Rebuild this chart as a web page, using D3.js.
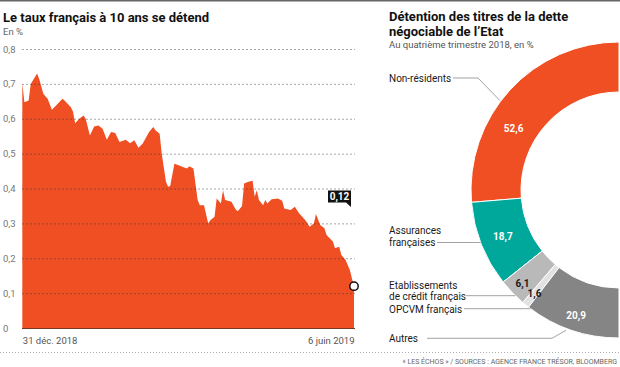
<!DOCTYPE html>
<html><head><meta charset="utf-8">
<script src="https://cdn.jsdelivr.net/npm/d3@7"></script>
<style>
body{margin:0;background:#fff;}
svg{display:block;font-family:Roboto,"Noto Sans",sans-serif;}
</style>
</head><body>
<svg id="chart" width="620" height="367"></svg>
<script>
// ---------- DATA ----------
const startDate = "2018-12-31";
const dayOffsets = [0,1,3,4,7,8,10,12,14,16,19,20,23,24,25,27,29,30,32,34,36,38,40,42,44,46,49,51,53,55,57,60,62,63,65,66,68,69,70,72,74,76,78,79,81,83,84,86,88,89,91,92,94,95,96,99,101,102,104,105,107,109,110,111,112,114,115,116,118,121,123,124,127,129,131,134,136,138,139,141,143,144,147,148,150,151,153,155,156,157];
const yieldValues = [0.702,0.647,0.652,0.700,0.730,0.714,0.671,0.657,0.626,0.638,0.657,0.652,0.633,0.620,0.587,0.600,0.609,0.600,0.552,0.578,0.581,0.571,0.540,0.562,0.559,0.533,0.540,0.530,0.538,0.517,0.529,0.562,0.576,0.567,0.557,0.500,0.419,0.405,0.407,0.471,0.467,0.462,0.457,0.464,0.457,0.367,0.352,0.352,0.300,0.309,0.319,0.371,0.357,0.395,0.367,0.362,0.340,0.335,0.350,0.414,0.419,0.422,0.376,0.395,0.367,0.352,0.367,0.357,0.369,0.371,0.365,0.343,0.338,0.348,0.329,0.309,0.290,0.300,0.327,0.295,0.286,0.267,0.248,0.229,0.233,0.209,0.195,0.167,0.143,0.120];
const yTicks = [0,0.1,0.2,0.3,0.4,0.5,0.6,0.7,0.8];
const xTickLabels = ["31 déc. 2018","6 juin 2019"];
const lastValueLabel = "0,12";

const holderCategories = ["Non-résidents","Assurances françaises","Etablissements de crédit français","OPCVM français","Autres"];
const holderShares = [52.6,18.7,6.1,1.6,20.9];
const holderShareLabels = ["52,6","18,7","6,1","1,6","20,9"];

// ---------- STYLE / LAYOUT ----------
const ORANGE = "#f04e23";
const holderColors = [ORANGE,"#00a89c","#b9b9b9","#e2e2e2","#858585"];
const holderLabelColors = ["#fff","#fff","#1a1a1a","#1a1a1a","#fff"];

const svg = d3.select("#chart");
svg.append("rect").attr("width",620).attr("height",367).attr("fill","#fff");
svg.append("rect").attr("x",0).attr("y",0).attr("width",620).attr("height",1.5).attr("fill","#666");

const fr = d3.formatLocale({decimal:",",thousands:" ",grouping:[3],currency:["","€"]});
const fmt = v => v===0 ? "0" : fr.format(".1f")(v);

// ---------- LEFT CHART ----------
svg.append("text").attr("x",3).attr("y",21.5).attr("font-size",13).attr("font-weight",700)
  .attr("fill","#111").text("Le taux français à 10 ans se détend");
svg.append("text").attr("x",3).attr("y",34.5).attr("font-size",9.5).attr("fill","#666").text("En %");

const parse = d3.timeParse("%Y-%m-%d");
const t0 = parse(startDate);
const series = dayOffsets.map((d,i)=>({date:d3.timeDay.offset(t0,d), v:yieldValues[i]}));
const x = d3.scaleTime().domain([series[0].date, series[series.length-1].date]).range([22.3,354]);
const y = d3.scaleLinear().domain([0,0.8]).range([328,49]);

const area = d3.area().x(d=>x(d.date)).y0(y(0)).y1(d=>y(d.v));
svg.append("path").datum(series).attr("d",area).attr("fill",ORANGE);

// y axis with gridlines
const yAxis = d3.axisLeft(y).tickValues(yTicks).tickFormat(fmt).tickSize(-(355-22)).tickPadding(0);
const gy = svg.append("g").attr("transform","translate(22,0)").call(yAxis);
gy.select(".domain").remove();
gy.selectAll(".tick line").attr("stroke","#333").attr("stroke-opacity",0.55)
  .attr("stroke-width",0.8).attr("stroke-dasharray","2,2");
gy.selectAll(".tick").filter(d=>d===0).select("line").attr("stroke-dasharray",null)
  .attr("stroke","#7a3a22").attr("stroke-opacity",1).attr("stroke-width",1);
gy.selectAll(".tick text").attr("x",-19).attr("text-anchor","start")
  .attr("font-size",9.5).attr("fill","#777").attr("font-family","Roboto,sans-serif");

// x axis labels
const xAxis = d3.axisBottom(x).tickValues(x.domain()).tickFormat((d,i)=>xTickLabels[i]).tickSize(0).tickPadding(9);
const gx = svg.append("g").attr("transform",`translate(0,${y(0)})`).call(xAxis);
gx.select(".domain").remove();
gx.selectAll(".tick text").attr("font-size",9.5).attr("fill","#555").attr("font-family","Roboto,sans-serif")
  .attr("text-anchor",(d,i)=>i===0?"start":"end");

// end point + callout
const last = series[series.length-1];
svg.append("circle").attr("cx",x(last.date)).attr("cy",y(last.v)).attr("r",4.2)
  .attr("fill","#fff").attr("stroke","#111").attr("stroke-width",1.5);
const bx = x(last.date)-3, by = y(0.36);
svg.append("path").attr("d",`M${bx-23},${by-12}H${bx}V${by+4.5}L${bx-5},${by}H${bx-23}Z`).attr("fill","#111");
svg.append("text").attr("x",bx-11.5).attr("y",by-2.6).attr("text-anchor","middle")
  .attr("font-size",10).attr("font-weight",700).attr("fill","#fff").text(lastValueLabel);

// ---------- RIGHT CHART ----------
svg.append("text").attr("x",389).attr("y",20.7).attr("font-size",13).attr("font-weight",700)
  .attr("fill","#111").text("Détention des titres de la dette");
svg.append("text").attr("x",389).attr("y",35.5).attr("font-size",13).attr("font-weight",700)
  .attr("fill","#111").text("négociable de l’Etat");
svg.append("text").attr("x",389).attr("y",48.3).attr("font-size",9.5).attr("fill","#555")
  .text("Au quatrième trimestre 2018, en %");

const cx = 619, cy = 190, R = 148, r = 98;
const pie = d3.pie().sort(null).value(d=>d).startAngle(2*Math.PI).endAngle(Math.PI);
const arcs = pie(holderShares);
const arc = d3.arc().innerRadius(r).outerRadius(R);
const gd = svg.append("g").attr("transform",`translate(${cx},${cy})`);
gd.selectAll("path").data(arcs).join("path").attr("d",arc)
  .attr("fill",(d,i)=>holderColors[i]).attr("stroke","#fff").attr("stroke-width",1);

const labelFrac = [0.63,0.5,0.5,0.5,0.5];
const labelRad = [122,125,134,134,133];
gd.selectAll("text.val").data(arcs).join("text").attr("class","val")
  .attr("transform",(d,i)=>{
    const a = d.startAngle + (d.endAngle-d.startAngle)*labelFrac[i];
    return `translate(${labelRad[i]*Math.sin(a)},${-labelRad[i]*Math.cos(a)})`;
  })
  .attr("dy","0.35em").attr("text-anchor","middle").attr("font-size",10).attr("font-weight",700)
  .attr("fill",(d,i)=>holderLabelColors[i]).text((d,i)=>holderShareLabels[i]);

// category labels + leaders
const edgeX = yy => cx - Math.sqrt(R*R-(yy-cy)*(yy-cy));
const polar = (a,rr) => [cx+rr*Math.sin(a), cy-rr*Math.cos(a)];
const lab = svg.append("g").attr("font-size",10).attr("fill","#1a1a1a");
const leader = svg.append("g").attr("fill","none").attr("stroke","#8a8a8a").attr("stroke-width",0.8);

// Non-résidents
lab.append("text").attr("x",389).attr("y",81.5).text(holderCategories[0]);
{ const p = polar(arcs[0].startAngle + (arcs[0].endAngle-arcs[0].startAngle)*0.56, R+1);
  leader.append("path").attr("d",`M453,78H478L${p[0]},${p[1]}`); }
// Assurances françaises
lab.append("text").attr("x",389).attr("y",234).text("Assurances");
lab.append("text").attr("x",389).attr("y",245.5).text("françaises");
leader.append("path").attr("d",`M437,242.5H${edgeX(242.5)}`);
// Etablissements de crédit français
lab.append("text").attr("x",389).attr("y",288.5).text("Etablissements");
lab.append("text").attr("x",389).attr("y",299.5).text("de crédit français");
leader.append("path").attr("d",`M466,295.7H${edgeX(295.7)}`);
// OPCVM
lab.append("text").attr("x",389).attr("y",312.5).text(holderCategories[3]);
leader.append("path").attr("d",`M464,308.7H${edgeX(308.7)}`);
// Autres
lab.append("text").attr("x",389).attr("y",342).text(holderCategories[4]);
{ const p = polar(arcs[4].startAngle + (arcs[4].endAngle-arcs[4].startAngle)*0.45, R+2);
  leader.append("path").attr("d",`M427,338.3H552L${p[0]},${p[1]}`); }

// ---------- FOOTER ----------
svg.append("line").attr("x1",0).attr("x2",620).attr("y1",352.5).attr("y2",352.5)
  .attr("stroke","#999").attr("stroke-width",0.8).attr("stroke-dasharray","1,2");
svg.append("text").attr("x",617).attr("y",364).attr("text-anchor","end").attr("font-size",7)
  .attr("fill","#666").text("« LES ÉCHOS » / SOURCES : AGENCE FRANCE TRÉSOR, BLOOMBERG");
</script>
</body></html>
